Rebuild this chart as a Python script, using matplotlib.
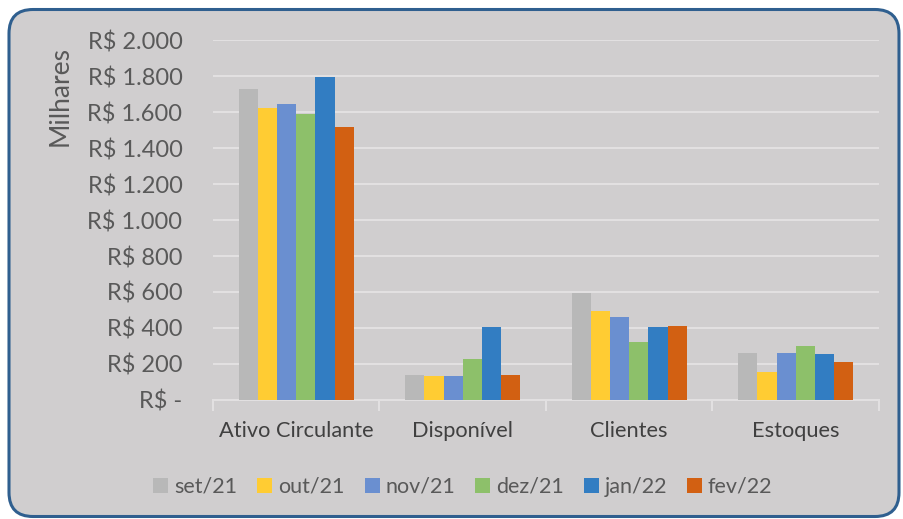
import matplotlib
matplotlib.use("Agg")
import matplotlib.pyplot as plt
import numpy as np
from matplotlib.patches import FancyBboxPatch

# values in thousands of R$
categories = ["Ativo Circulante", "Disponível", "Clientes", "Estoques"]
months = ["set/21", "out/21", "nov/21", "dez/21", "jan/22", "fev/22"]
set21 = [1730, 138, 592, 263]
out21 = [1620, 133, 497, 156]
nov21 = [1645, 131, 462, 263]
dez21 = [1588, 229, 320, 298]
jan22 = [1795, 406, 406, 256]
fev22 = [1517, 140, 413, 213]
series = [set21, out21, nov21, dez21, jan22, fev22]
colors = ["#B8B8B8", "#FFCC33", "#6A8FD0", "#8DC06A", "#327DC2", "#D26012"]

yticks = [0, 200, 400, 600, 800, 1000, 1200, 1400, 1600, 1800, 2000]
ytick_labels = ["R$ -", "R$ 200", "R$ 400", "R$ 600", "R$ 800", "R$ 1.000",
                "R$ 1.200", "R$ 1.400", "R$ 1.600", "R$ 1.800", "R$ 2.000"]

plt.rcParams["font.family"] = ["Lato", "DejaVu Sans"]
txt = "#595959"

fig = plt.figure(figsize=(9.04, 5.19), dpi=100, facecolor="white")

# rounded chart-area border
box = FancyBboxPatch((0.09, 0.025), 8.90, 5.07,
                     boxstyle="round,pad=0,rounding_size=0.24",
                     transform=fig.dpi_scale_trans,
                     facecolor="#D0CECF", edgecolor="#2F5F8F", linewidth=2.2,
                     zorder=-1)
fig.patches.append(box)

ax = fig.add_axes([0.2356, 0.2293, 0.7367, 0.6936])
ax.patch.set_visible(False)

x = np.arange(len(categories))
w = 0.115
for i, (vals, c, m) in enumerate(zip(series, colors, months)):
    ax.bar(x + (i - 2.5) * w, vals, width=w, color=c, label=m, zorder=3)

ax.set_xlim(-0.5, len(categories) - 0.5)
ax.set_ylim(0, 2000)
ax.set_yticks(yticks)
ax.set_yticklabels(ytick_labels, fontsize=17, color=txt)
ax.set_xticks(x)
ax.set_xticklabels(categories, fontsize=15.7, color="#404040")
ax.tick_params(axis="y", length=0, pad=22)
ax.tick_params(axis="x", length=0, pad=15)
ax.set_xticks(np.arange(-0.5, len(categories), 1), minor=True)
ax.tick_params(axis="x", which="minor", length=8, color="#E2E0E1", width=1.5)

ax.grid(axis="y", color="#E2E0E1", linewidth=1.5, zorder=0)
for s in ["top", "right", "left"]:
    ax.spines[s].set_visible(False)
ax.spines["bottom"].set_color("#E2E0E1")
ax.spines["bottom"].set_linewidth(1.5)

fig.text(0.067, 0.912, "Milhares", rotation=90, va="top", ha="center",
         fontsize=19, color=txt)

fig.legend(loc="center", bbox_to_anchor=(0.512, 0.062), ncol=6, frameon=False,
           fontsize=15.5, labelcolor=txt, handlelength=0.7, handleheight=0.7,
           handletextpad=0.25, columnspacing=0.95)

fig.savefig("out.png", dpi=100, facecolor="white")
